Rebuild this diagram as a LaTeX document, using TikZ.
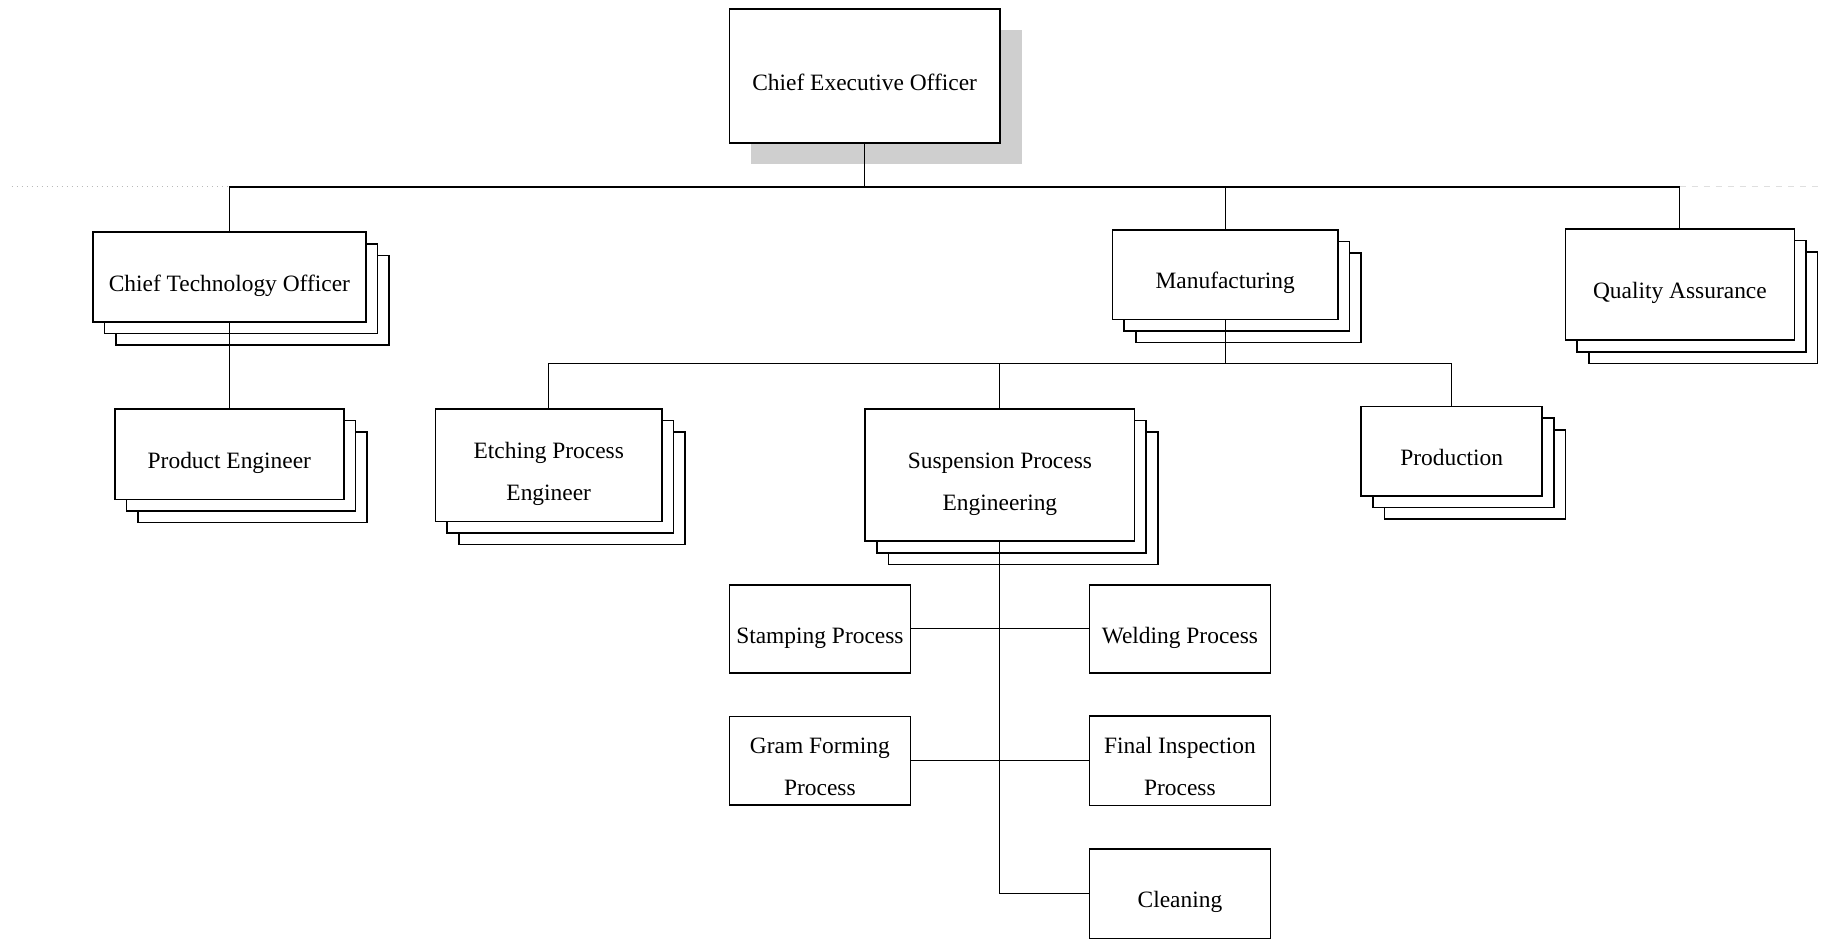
\documentclass[tikz,border=0pt]{standalone}
\usepackage{fontspec}
\setmainfont{Liberation Serif}
\usetikzlibrary{shadows}
\def\uu{0.58pt}
\newcommand\boxtext[1]{\raisebox{-2.9pt}[\height][\depth]{\begin{tabular}{@{}c@{}}#1\end{tabular}}}
\begin{document}
\begin{tikzpicture}[x=0.58pt,y=-0.58pt,
  box/.style={draw, line width=0.8pt, fill=white, inner sep=0pt,
    font=\fontsize{11.7}{21}\selectfont},
  stk/.style={box, double copy shadow={shadow xshift=10*\uu, shadow yshift=-10*\uu, line width=0.8pt}},
  ceoshadow/.style={general shadow={fill=gray!38, shadow xshift=19*\uu, shadow yshift=-18*\uu}},
  conn/.style={line width=0.55pt},
  faint/.style={gray!55, dotted, line width=0.5pt}]
\useasboundingbox (0,0) rectangle (1568,809);

\node[box, ceoshadow, minimum width=233*\uu, minimum height=115*\uu] (ceo) at (744.5,65.5) {\boxtext{Chief Executive Officer}};

\node[stk, minimum width=235*\uu, minimum height=77*\uu] (cto) at (197.5,238.5) {\boxtext{Chief Technology Officer}};
\node[stk, minimum width=194*\uu, minimum height=77*\uu] (mfg) at (1055,236.5) {\boxtext{Manufacturing}};
\node[stk, minimum width=197*\uu, minimum height=96*\uu] (qa) at (1446.5,245) {\boxtext{Quality Assurance}};

\node[stk, minimum width=197*\uu, minimum height=78*\uu] (pe) at (197.5,391) {\boxtext{Product Engineer}};
\node[stk, minimum width=195*\uu, minimum height=97*\uu] (etch) at (472.5,400.5) {\boxtext{Etching Process\\Engineer}};
\node[stk, minimum width=232*\uu, minimum height=114*\uu] (susp) at (861,409) {\boxtext{Suspension Process\\Engineering}};
\node[stk, minimum width=156*\uu, minimum height=77*\uu] (prod) at (1250,388.5) {\boxtext{Production}};

\node[box, minimum width=156*\uu, minimum height=76*\uu] (stamp) at (706,541.5) {\boxtext{Stamping Process}};
\node[box, minimum width=156*\uu, minimum height=76*\uu] (weld) at (1016,541.5) {\boxtext{Welding Process}};
\node[box, minimum width=156*\uu, minimum height=76*\uu] (gram) at (706,655) {\boxtext{Gram Forming\\Process}};
\node[box, minimum width=156*\uu, minimum height=77*\uu] (final) at (1016,655) {\boxtext{Final Inspection\\Process}};
\node[box, minimum width=156*\uu, minimum height=77*\uu] (clean) at (1016,769.5) {\boxtext{Cleaning}};

\coordinate (b1) at (744.5,161);
\coordinate (b2) at (1055,313);
\coordinate (lend) at (10,161);
\coordinate (rend) at (1568,161);

\draw[conn] (ceo.south) -- (b1);
\draw[conn] (cto.north) -- (cto.north |- b1) -- (qa.north |- b1) -- (qa.north);
\draw[conn] (mfg.north) -- (mfg.north |- b1);
\draw[faint] (lend) -- (cto.north |- b1);
\draw[gray!25, dashed, line width=0.5pt] (qa.north |- b1) -- (rend);

\draw[conn] (cto.south) -- (pe.north);

\draw[conn] (mfg.south) -- (b2);
\draw[conn] (etch.north) -- (etch.north |- b2) -- (prod.north |- b2) -- (prod.north);
\draw[conn] (susp.north) -- (susp.north |- b2);

\draw[conn] (susp.south) |- (clean.west);
\draw[conn] (stamp.east) -- (weld.west);
\draw[conn] (gram.east) -- (final.west);
\end{tikzpicture}
\end{document}
